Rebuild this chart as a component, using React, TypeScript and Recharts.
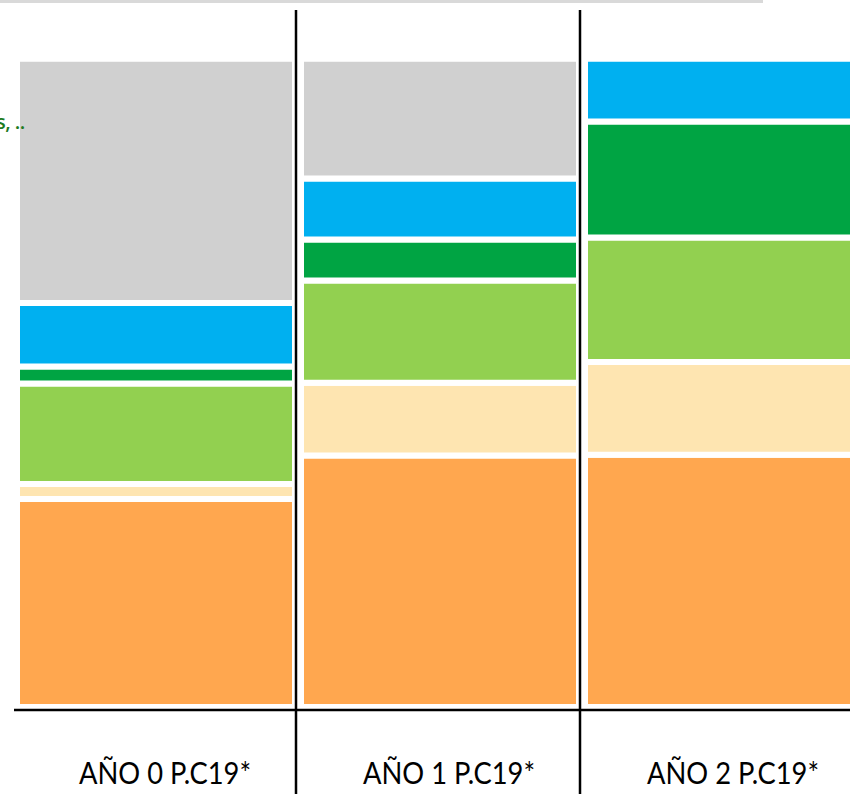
import React from "react";
import { Bar, BarChart, XAxis, YAxis } from "recharts";

// columns (bottom to top of each stack), read as % of the full bar
const categories = ["AÑO 0 P.C19*", "AÑO 1 P.C19*", "AÑO 2 P.C19*"];
const orange = [32.1, 38.8, 38.9];
const cream = [2.3, 11.2, 14.3];
const lightGreen = [15.5, 15.8, 19.2];
const darkGreen = [2.6, 6.3, 17.9];
const blue = [9.8, 9.4, 9.7];
const grey = [37.7, 18.5, 0];

const series = [
  { key: "orange", values: orange, color: "#ffa74f" },
  { key: "cream", values: cream, color: "#fee5b1" },
  { key: "lightGreen", values: lightGreen, color: "#92d050" },
  { key: "darkGreen", values: darkGreen, color: "#00a443" },
  { key: "blue", values: blue, color: "#00b0f0" },
  { key: "grey", values: grey, color: "#d0d0d0" },
];

const chartData = categories.map((name, i) => {
  const row: Record<string, string | number> = { name };
  series.forEach((s) => {
    row[s.key] = s.values[i];
  });
  return row;
});

const PLOT_LEFT = 14;
const BAND = 284;
const WIDTH = PLOT_LEFT + BAND * 3;
const HEIGHT = 794;

function CategoryTick(props: any) {
  const { x, payload, index } = props;
  return (
    <g>
      <text
        x={x + 9}
        y={784}
        textAnchor="middle"
        fontFamily="Lato, 'Open Sans', sans-serif"
        fontSize={30}
        textLength={172}
        lengthAdjust="spacingAndGlyphs"
        fill="#000"
      >
        {payload.value}
      </text>
      {index > 0 && (
        <line
          x1={x - BAND / 2 - 2}
          x2={x - BAND / 2 - 2}
          y1={10}
          y2={HEIGHT}
          stroke="#000"
          strokeWidth={2.5}
        />
      )}
    </g>
  );
}

export default function App() {
  return (
    <div
      style={{
        position: "absolute",
        left: 0,
        top: 0,
        width: 850,
        height: HEIGHT,
        overflow: "hidden",
        background: "#fff",
      }}
    >
      <div
        style={{
          position: "absolute",
          left: 0,
          top: 0,
          width: 763,
          height: 3,
          background: "#d9d9d9",
        }}
      />
      <BarChart
        width={WIDTH}
        height={HEIGHT}
        data={chartData}
        margin={{ top: 10, right: 0, bottom: 0, left: PLOT_LEFT }}
        barCategoryGap={3}
      >
        <XAxis
          dataKey="name"
          height={84}
          tickLine={false}
          axisLine={{ stroke: "#000", strokeWidth: 2.5 }}
          tick={<CategoryTick />}
          interval={0}
        />
        <YAxis hide domain={[-0.46, 107.5]} allowDataOverflow />
        {series.map((s) => (
          <Bar
            key={s.key}
            dataKey={s.key}
            stackId="a"
            fill={s.color}
            stroke="#fff"
            strokeWidth={6}
            isAnimationActive={false}
          />
        ))}
      </BarChart>
      <div
        style={{
          position: "absolute",
          left: -4,
          top: 110,
          zIndex: 2,
          color: "#1e7b1e",
          fontFamily: "'Open Sans', sans-serif",
          fontSize: 20,
          fontWeight: 600,
          lineHeight: "24px",
          letterSpacing: -0.5,
          whiteSpace: "nowrap",
        }}
      >
        s, ..
      </div>
    </div>
  );
}
